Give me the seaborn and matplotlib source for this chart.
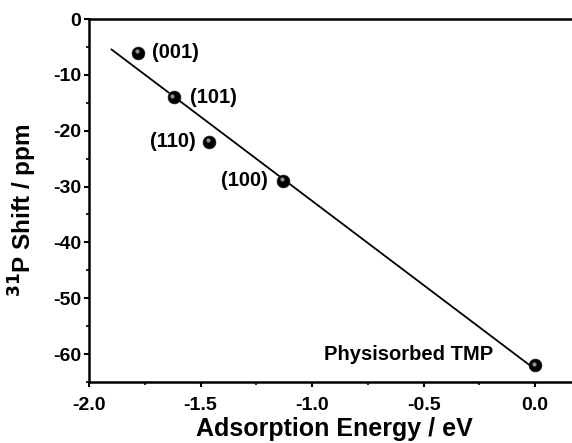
import numpy as np
import pandas as pd
import seaborn as sns
import matplotlib.pyplot as plt
import matplotlib.transforms as mtransforms

# Data
facets = ["(001)", "(101)", "(110)", "(100)", "Physisorbed TMP"]
energy = [-1.78, -1.62, -1.46, -1.13, 0.0]
shift = [-6.0, -14.0, -22.0, -29.0, -62.0]

df = pd.DataFrame({"facet": facets, "energy": energy, "shift": shift})

sns.set_style("ticks")
plt.rcParams["font.family"] = ["Liberation Sans", "DejaVu Sans"]
plt.rcParams["font.weight"] = "bold"
plt.rcParams["axes.unicode_minus"] = False
plt.rcParams["mathtext.default"] = "bf"
for key in ["text.color", "axes.labelcolor", "xtick.color", "ytick.color"]:
    plt.rcParams[key] = "black"

fig = plt.figure(figsize=(5.72, 4.43), dpi=100)
ax = fig.add_axes([89 / 572, 1 - 382 / 443, 0.858, (382 - 19) / 443])

# linear fit line
slope, intercept = np.polyfit(df["energy"], df["shift"], 1)
fit_x = np.array([-1.9, 0.0])
sns.lineplot(x=fit_x, y=slope * fit_x + intercept, color="black", lw=1.3, ax=ax)

sns.scatterplot(data=df, x="energy", y="shift", s=85, color="black",
                edgecolor="#222222", linewidth=0.5, ax=ax, zorder=3)
# small highlight on each sphere
hl = mtransforms.offset_copy(ax.transData, fig=fig, x=-1.5, y=1.5, units="dots")
ax.scatter(df["energy"], df["shift"], s=9, color="#8f8f8f", transform=hl,
           zorder=4, linewidths=0)

offsets = {"(001)": (14, 0, "left"), "(101)": (16, 0, "left"),
           "(110)": (-14, 0, "right"), "(100)": (-15, 0, "right"),
           "Physisorbed TMP": (-42, 11, "right")}
for _, row in df.iterrows():
    dx, dy, ha = offsets[row["facet"]]
    ax.annotate(row["facet"], (row["energy"], row["shift"]), xytext=(dx, dy),
                textcoords="offset pixels", ha=ha, va="center",
                fontsize=14.5, fontweight="bold")

ax.set_xlim(-2.0, 0.2)
ax.set_ylim(-65, 0)
ax.set_xticks([-2.0, -1.5, -1.0, -0.5, 0.0])
ax.set_xticks(np.arange(-1.75, 0.2, 0.5), minor=True)
ax.set_yticks([0, -10, -20, -30, -40, -50, -60])
ax.set_yticks(np.arange(-65, 0, 10), minor=True)
ax.tick_params(which="major", direction="out", length=3.5, width=1.5, labelsize=14)
ax.tick_params(which="minor", direction="out", length=2.5, width=1.2)
ax.tick_params(axis="x", which="major", pad=7.5)
ax.tick_params(axis="y", which="major", pad=2)
for lab in ax.get_xticklabels() + ax.get_yticklabels():
    lab.set_fontweight("bold")
for sp in ax.spines.values():
    sp.set_linewidth(1.8)
    sp.set_color("black")

ax.set_xlabel("Adsorption Energy / eV", fontsize=18, fontweight="bold", labelpad=2)
ax.set_ylabel(r"$^{31}$P Shift / ppm", fontsize=17.5, fontweight="bold")
ax.yaxis.set_label_coords(-0.102, 0.474)

fig.savefig("out.png", dpi=100)
